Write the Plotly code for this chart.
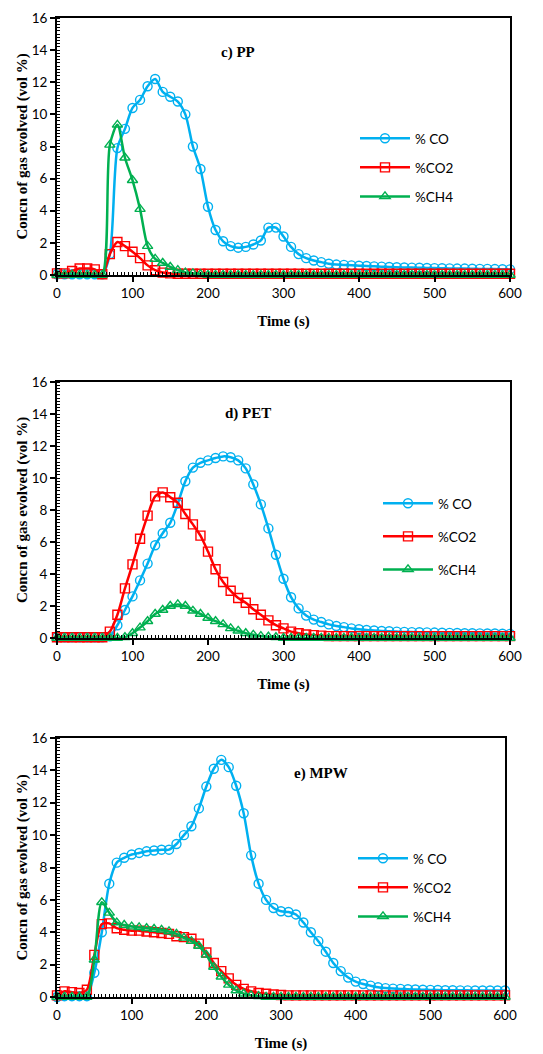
import plotly.graph_objects as go

time_s = list(range(0, 610, 10))

# ---- c) PP ----
pp_co = [0.05, 0.05, 0.05, 0.05, 0.05, 0.05, 0.05, 1.3, 7.9, 9.1, 10.4, 10.9, 11.75, 12.2, 11.4, 11.1,
         10.8, 10.0, 8.0, 6.6, 4.25, 2.8, 2.1, 1.8, 1.7, 1.75, 1.9, 2.15, 2.95, 2.95, 2.4, 1.75, 1.3,
         1.05, 0.9, 0.8, 0.7, 0.65, 0.63, 0.6, 0.58, 0.56, 0.54, 0.52, 0.5, 0.48, 0.47, 0.46, 0.45,
         0.44, 0.43, 0.42, 0.41, 0.4, 0.4, 0.39, 0.38, 0.38, 0.37, 0.36, 0.35]
pp_co2 = [0.1, 0.1, 0.25, 0.4, 0.4, 0.35, 0.05, 1.3, 2.05, 1.8, 1.45, 1.05, 0.6, 0.3, 0.15, 0.1,
          0.08] + [0.08] * 44
pp_ch4 = [0.0, 0.0, 0.0, 0.0, 0.0, 0.0, 0.0, 8.1, 9.35, 7.3, 5.9, 4.1, 1.8, 1.0, 0.75, 0.5, 0.3,
          0.15, 0.1, 0.05] + [0.0] * 41

# ---- d) PET ----
pet_co = [0.05, 0.05, 0.05, 0.05, 0.05, 0.05, 0.05, 0.1, 0.8, 1.75, 2.6, 3.6, 4.65, 5.8, 6.55, 7.2,
          8.4, 9.8, 10.65, 10.95, 11.1, 11.25, 11.35, 11.3, 11.1, 10.6, 9.6, 8.35, 6.85, 5.2, 3.7,
          2.55, 1.85, 1.4, 1.15, 1.0, 0.85, 0.75, 0.68, 0.6, 0.55, 0.5, 0.47, 0.44, 0.42, 0.4, 0.38,
          0.37, 0.36, 0.35, 0.34, 0.33, 0.32, 0.31, 0.3, 0.3, 0.29, 0.28, 0.28, 0.27, 0.26]
pet_co2 = [0.05, 0.05, 0.05, 0.05, 0.05, 0.05, 0.05, 0.4, 1.45, 3.1, 4.6, 6.2, 7.65, 8.85, 9.1, 8.8,
           8.45, 7.75, 7.1, 6.4, 5.4, 4.3, 3.5, 2.95, 2.5, 2.2, 1.8, 1.45, 1.1, 0.8, 0.6, 0.4, 0.3,
           0.22, 0.18, 0.15] + [0.12] * 25
pet_ch4 = [0.0] * 9 + [0.05, 0.3, 0.65, 1.05, 1.5, 1.75, 2.0, 2.1, 2.0, 1.7, 1.5, 1.25, 1.05, 0.85,
                       0.6, 0.45, 0.3, 0.2, 0.12, 0.08, 0.05] + [0.0] * 31

# ---- e) MPW ----
mpw_co = [0.0, 0.05, 0.05, 0.05, 0.05, 1.5, 4.0, 7.0, 8.3, 8.6, 8.8, 8.9, 9.0, 9.05, 9.1, 9.1, 9.45,
          10.0, 10.55, 11.65, 13.0, 14.1, 14.65, 14.2, 13.05, 11.35, 8.75, 7.0, 6.0, 5.5, 5.3,
          5.25, 5.1, 4.6, 4.0, 3.45, 2.8, 2.1, 1.6, 1.2, 0.95, 0.8, 0.7, 0.6, 0.55, 0.52, 0.5,
          0.48, 0.46, 0.45, 0.44, 0.43, 0.42, 0.42, 0.41, 0.41, 0.4, 0.4, 0.4, 0.4, 0.4]
mpw_co2 = [0.1, 0.35, 0.3, 0.25, 0.45, 2.6, 4.5, 4.55, 4.25, 4.15, 4.1, 4.1, 4.05, 4.0, 3.95, 3.9,
           3.75, 3.7, 3.6, 3.3, 2.75, 2.1, 1.6, 1.15, 0.75, 0.5, 0.35, 0.25, 0.2, 0.15,
           0.12] + [0.1] * 30
mpw_ch4 = [0.0, 0.0, 0.0, 0.0, 0.0, 2.3, 5.85, 5.2, 4.6, 4.45, 4.35, 4.3, 4.25, 4.2, 4.15, 4.05,
           3.9, 3.65, 3.45, 3.15, 2.6, 1.85, 1.25, 0.75, 0.4, 0.2, 0.1, 0.05] + [0.0] * 33

panel_labels = ["c) PP", "d) PET", "e) MPW"]
series_names = ["% CO", "%CO2", "%CH4"]
x_ticks = [0, 100, 200, 300, 400, 500, 600]
y_ticks = [0, 2, 4, 6, 8, 10, 12, 14, 16]

panels = [
    (pp_co, pp_co2, pp_ch4),
    (pet_co, pet_co2, pet_ch4),
    (mpw_co, mpw_co2, mpw_ch4),
]

# The page body has an 8px margin; work in window pixels and convert.
OFF = 8
W, H = 543 - OFF, 1054 - OFF
colors = ["#00B0F0", "#FF0000", "#00B050"]
symbols = ["circle-open", "square-open", "triangle-up-open"]

# window-pixel geometry for each panel: (x0, x1, ytop, ybottom)
geom = [(57, 510, 18, 275), (57, 510, 382, 638), (57, 505, 738, 997)]
legend_pos = [(355, 123), (378, 488), (353, 843)]
label_pos = [(238, 53), (248, 413), (321, 773)]
legend_gap = [8.5, 12.5, 8.5]


def fx(px):
    return (px - OFF) / W


def fy(py):
    return 1 - (py - OFF) / H


tick_font = dict(family="Lato, Carlito, 'Liberation Sans', sans-serif", size=13.5, color="#000")
title_font = dict(family="'Liberation Serif', 'Times New Roman', serif", size=15, color="#000")

fig = go.Figure()
layout = dict(
    width=W, height=H, margin=dict(l=0, r=0, t=0, b=0),
    paper_bgcolor="white", plot_bgcolor="white", showlegend=True,
)
annotations = []

for i, (series, g) in enumerate(zip(panels, geom)):
    n = "" if i == 0 else str(i + 1)
    x0, x1, yt, yb = g
    legend_name = "legend" if i == 0 else f"legend{i + 1}"
    for j, (vals, name) in enumerate(zip(series, series_names)):
        fig.add_trace(go.Scatter(
            x=time_s, y=vals, name=name, mode="lines+markers",
            line=dict(color=colors[j], width=2.5, shape="spline", smoothing=0.8),
            marker=dict(symbol=symbols[j], size=9, color=colors[j], line=dict(width=1.4, color=colors[j])),
            xaxis="x" + n, yaxis="y" + n, legend=legend_name,
            legendgroup=f"g{i}_{j}", cliponaxis=False,
        ))
    layout["xaxis" + n] = dict(
        domain=[fx(x0), fx(x1)], anchor="y" + n, range=[0, 600],
        tickvals=x_ticks, ticks="outside", ticklen=5, tickwidth=1.5, tickcolor="#000",
        showline=True, linecolor="#000", linewidth=1.5, mirror=True, showgrid=False,
        zeroline=False, tickfont=tick_font, automargin=False,
        minor=dict(ticks="inside", dtick=5, ticklen=3, tickwidth=1, tickcolor="#000", showgrid=False),
        title=dict(text="<b>Time (s)</b>", font=title_font, standoff=16),
    )
    layout["yaxis" + n] = dict(
        domain=[fy(yb), fy(yt)], anchor="x" + n, range=[0, 16],
        tickvals=y_ticks, ticks="outside", ticklen=5, tickwidth=1.5, tickcolor="#000",
        showline=True, linecolor="#000", linewidth=2, mirror=True, showgrid=False,
        zeroline=False, tickfont=tick_font, automargin=False,
        minor=dict(ticks="inside", dtick=0.2, ticklen=3, tickwidth=1, tickcolor="#000", showgrid=False),
        title=dict(text="<b>Concn of gas evolved (vol %)</b>", font=title_font, standoff=0),
    )
    lx, ly = legend_pos[i]
    layout[legend_name] = dict(
        x=fx(lx), y=fy(ly), xanchor="left", yanchor="top",
        font=tick_font, bgcolor="rgba(0,0,0,0)", tracegroupgap=legend_gap[i],
        traceorder="grouped", itemwidth=50,
    )
    px, py = label_pos[i]
    annotations.append(dict(
        text=f"<b>{panel_labels[i]}</b>", x=fx(px), y=fy(py), xref="paper", yref="paper",
        showarrow=False, font=title_font, xanchor="center", yanchor="middle",
    ))

layout["annotations"] = annotations
fig.update_layout(**layout)
fig.write_html("out.html")
